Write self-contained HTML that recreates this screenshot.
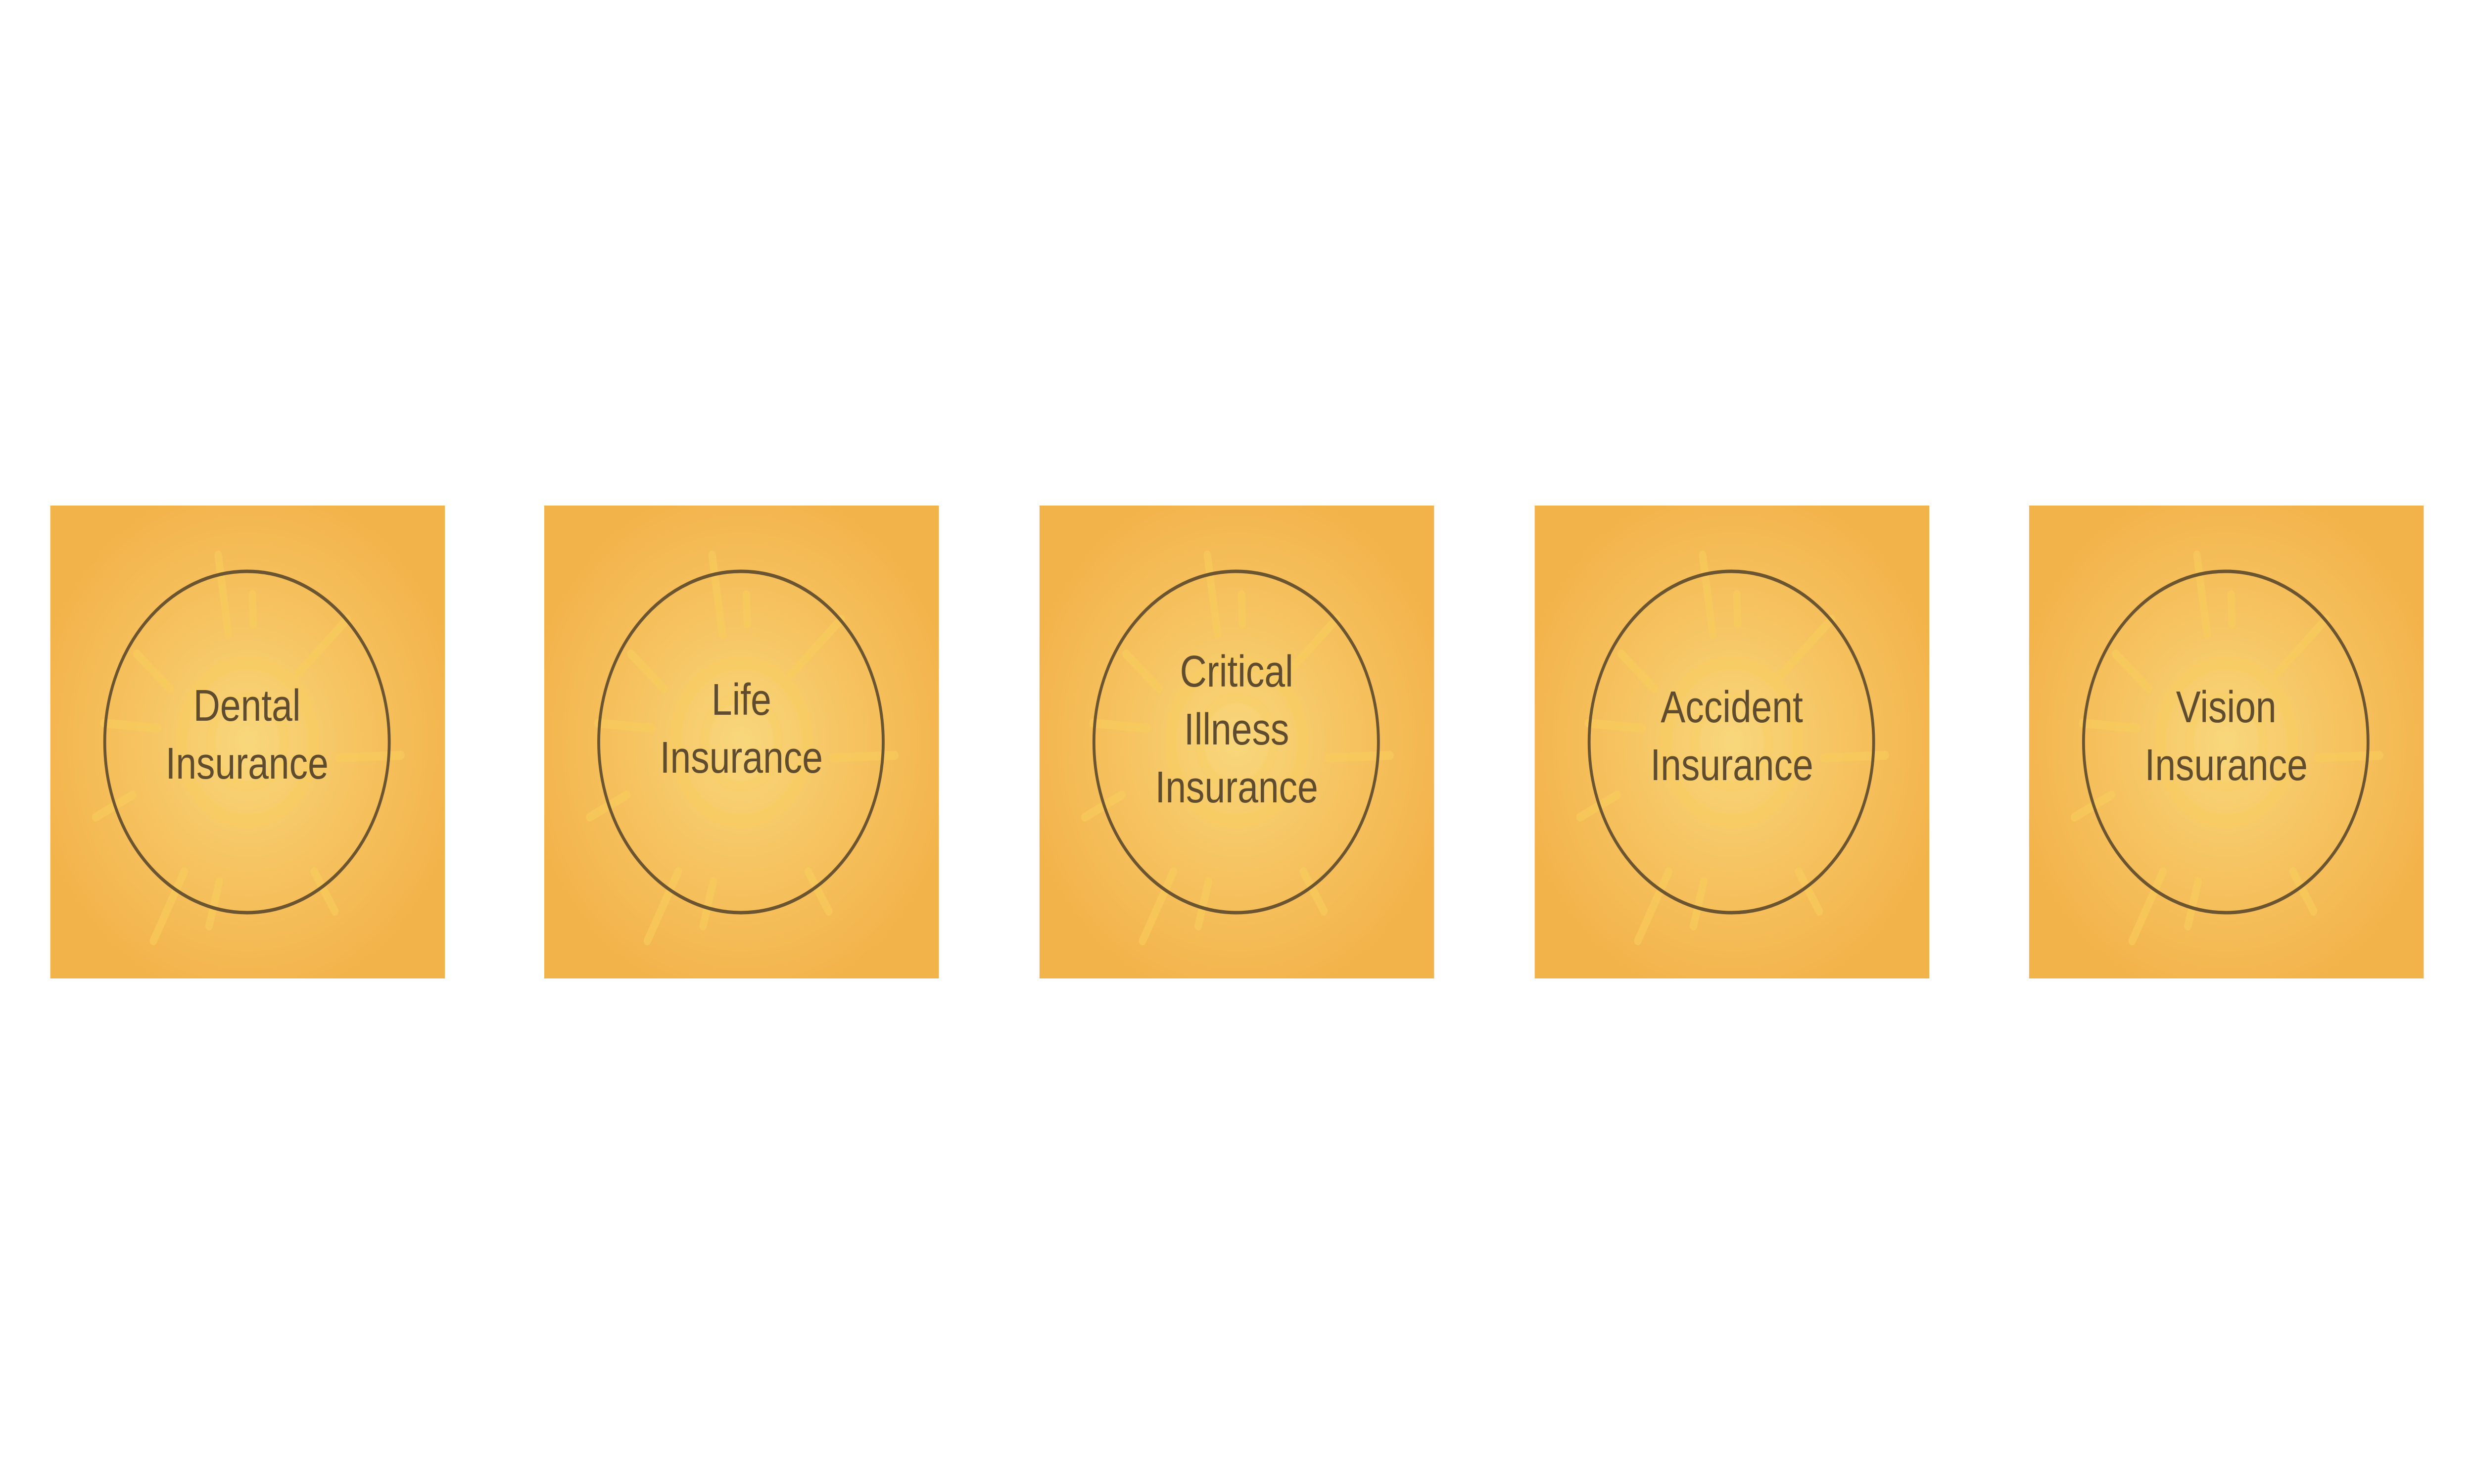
<!DOCTYPE html>
<html><head><meta charset="utf-8"><style>
html,body{margin:0;padding:0;background:#fff;width:100%;height:100%;overflow:hidden;}
svg{position:absolute;left:0;top:0;width:100vw;height:100vh;display:block;}
text{font-family:"Liberation Sans",sans-serif;font-size:90px;fill:#5f4b2e;text-anchor:middle;}
</style></head><body>
<svg viewBox="0 0 6000 3000" preserveAspectRatio="none">
<defs>
<radialGradient id="g" cx="0.5" cy="0.5" r="0.55">
<stop offset="0" stop-color="#f8d77c"/>
<stop offset="0.45" stop-color="#f6c563"/>
<stop offset="1" stop-color="#f3b34b"/>
</radialGradient>
<g id="sq">
<rect x="0" y="0" width="957" height="956" fill="url(#g)"/>
<g stroke="#f9cd5c" stroke-opacity="0.6" stroke-linecap="round" stroke-width="18" fill="none">
<line x1="407" y1="100" x2="432" y2="260"/>
<line x1="720" y1="230" x2="600" y2="340"/>
<line x1="210" y1="300" x2="290" y2="370"/>
<line x1="130" y1="440" x2="260" y2="450"/>
<line x1="850" y1="505" x2="700" y2="510"/>
<line x1="110" y1="630" x2="200" y2="585"/>
<line x1="640" y1="740" x2="690" y2="820"/>
<line x1="325" y1="740" x2="250" y2="880"/>
<line x1="410" y1="760" x2="385" y2="850"/>
<line x1="490" y1="180" x2="492" y2="240"/>
<circle cx="478" cy="478" r="160" stroke-width="30" stroke-opacity="0.4"/>
<circle cx="478" cy="478" r="90" stroke-width="22" stroke-opacity="0.3"/>
</g>
<circle cx="477" cy="478" r="345" fill="none" stroke="#6b5430" stroke-width="7"/>
</g>
</defs>
<use href="#sq" x="122" y="1022"/>
<use href="#sq" x="1320" y="1022"/>
<use href="#sq" x="2521" y="1022"/>
<use href="#sq" x="3722" y="1022"/>
<use href="#sq" x="4921" y="1022"/>
<text x="599" y="1457">Dental</text>
<text x="599" y="1574">Insurance</text>
<text x="1798" y="1445">Life</text>
<text x="1798" y="1562">Insurance</text>
<text x="2999" y="1388">Critical</text>
<text x="2999" y="1505">Illness</text>
<text x="2999" y="1622">Insurance</text>
<text x="4200" y="1460">Accident</text>
<text x="4200" y="1577">Insurance</text>
<text x="5399" y="1460">Vision</text>
<text x="5399" y="1577">Insurance</text>
</svg>
</body></html>
